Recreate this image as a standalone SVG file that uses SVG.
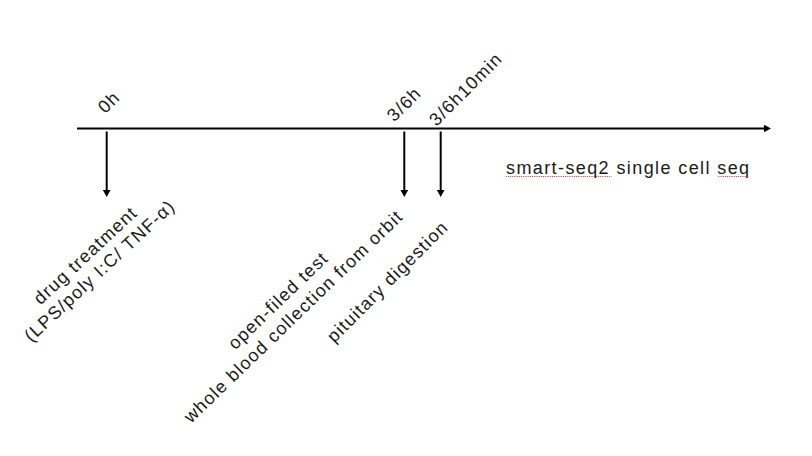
<svg xmlns="http://www.w3.org/2000/svg" width="812" height="456" viewBox="0 0 812 456">
<style>
.t{font-family:"Liberation Sans",Arial,sans-serif;font-size:18px;letter-spacing:1.2px;fill:#1a1a1a;text-anchor:middle}
.h{font-family:"Liberation Sans",Arial,sans-serif;font-size:18px;letter-spacing:1.4px;fill:#1a1a1a}
.ln{stroke:#000;stroke-width:2;fill:none}
.sq{stroke:#e0302a;stroke-width:1.2;stroke-dasharray:1 1.2;fill:none}
</style>
<defs>
<marker id="ah" markerUnits="userSpaceOnUse" markerWidth="8" markerHeight="8" refX="1" refY="3.8" orient="auto">
<path d="M0,0 L7,3.8 L0,7.6 z" fill="#000"/>
</marker>
</defs>
<rect width="812" height="456" fill="#fff"/>
<g id="connectors">
<line id="axis" class="ln" x1="77" y1="128.5" x2="765" y2="128.5" marker-end="url(#ah)"/>
<line class="ln" x1="106.7" y1="131.5" x2="106.7" y2="191" marker-end="url(#ah)"/>
<line class="ln" x1="404.3" y1="131.5" x2="404.3" y2="191" marker-end="url(#ah)"/>
<line class="ln" x1="440.7" y1="131.5" x2="440.7" y2="191" marker-end="url(#ah)"/>
</g>
<g id="t0h" transform="translate(113.2,106.4) rotate(-45)"><text class="t" x="0" y="0">0h</text></g>
<g id="t36h" transform="translate(408.4,108.4) rotate(-45)"><text class="t" x="0" y="0">3/6h</text></g>
<g id="t36h10" transform="translate(470,93.4) rotate(-45)"><text class="t" x="0" y="0">3/6h10min</text></g>
<g id="drug" transform="translate(103.8,275.2) rotate(-43)">
<text class="t" x="0" y="-21">drug treatment</text>
<text class="t" x="0" y="0">(LPS/poly I:C/ TNF-α)</text>
</g>
<g id="blood" transform="translate(297.6,320.8) rotate(-44)">
<text class="t" x="0" y="-22">open-filed test</text>
<text class="t" x="0" y="0">whole blood collection from orbit</text>
</g>
<g id="pituitary" transform="translate(391.8,285.8) rotate(-45)">
<text class="t" x="0" y="0">pituitary digestion</text>
</g>
<g id="seq">
<text class="h" x="506" y="174">smart-seq2 single cell seq</text>
<line class="sq" x1="505.7" y1="176.5" x2="611.7" y2="176.5"/>
<line class="sq" x1="718.3" y1="176.5" x2="749.3" y2="176.5"/>
</g>
</svg>
